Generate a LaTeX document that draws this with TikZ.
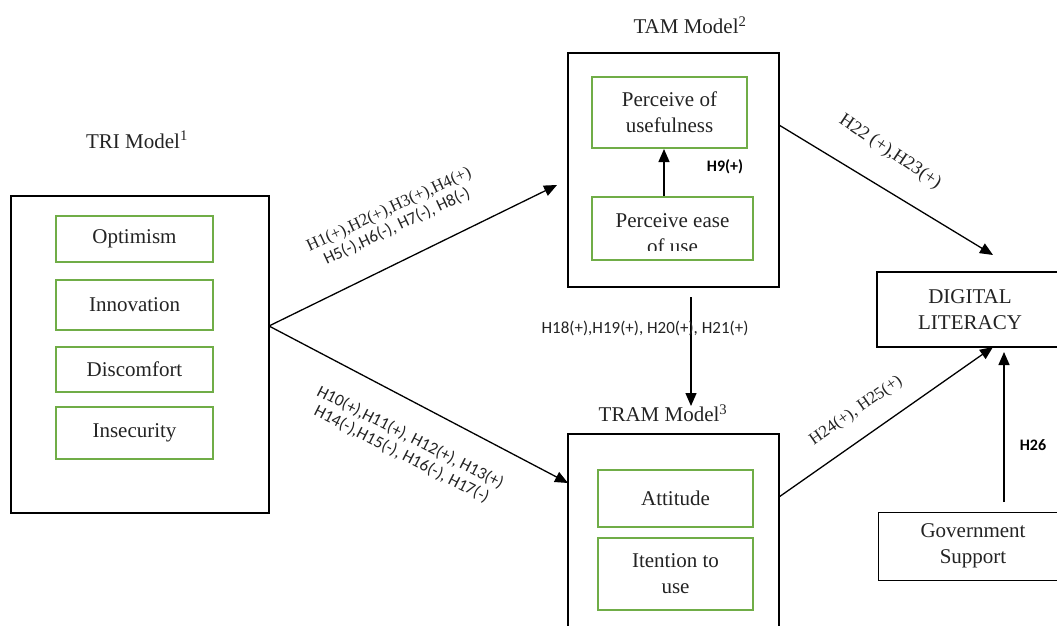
\documentclass[tikz,border=0pt]{standalone}
\usepackage{fontspec}
\setmainfont{Liberation Serif}
\newfontfamily\tnrfont{Liberation Serif}
\newfontfamily\calfont{Carlito}
\usetikzlibrary{arrows.meta}
\definecolor{boxgreen}{RGB}{112,173,71}
\definecolor{txt}{RGB}{35,35,35}
\newcommand\szbig{\tnrfont\fontsize{21}{26}\selectfont}
\newcommand\szmid{\fontsize{17}{19}\selectfont}
\newcommand\szmidl{\fontsize{18.5}{20}\selectfont}
\newcommand\szsm{\fontsize{16}{18}\selectfont}
\begin{document}
\begin{tikzpicture}[x=1pt,y=-1pt,
  outer/.style={draw=black, line width=2pt, inner sep=0pt},
  thinbox/.style={draw=black, line width=1pt, inner sep=0pt, align=center, font=\szbig, text=txt},
  inbox/.style={draw=boxgreen, line width=2pt, inner sep=0pt, align=center, font=\szbig, text=txt},
  title/.style={font=\szbig, text=txt, inner sep=0pt},
  arr/.style={line width=1.3pt, -{Triangle[length=13pt,width=11pt]}},
  lblserif/.style={font=\tnrfont\szmid, align=center, text=txt, inner sep=0pt},
  lblsans/.style={font=\calfont\szmid, align=center, text=txt, inner sep=0pt},
  lblbold/.style={font=\calfont\bfseries\szsm, text=black, inner sep=0pt}]
\useasboundingbox (0,0) rectangle (1057,626);
\clip (0,0) rectangle (1057,626);

% TRI model
\node[title] (tritl) at (137,140) {TRI Model\textsuperscript{1}};
\node[outer, minimum width=258pt, minimum height=317pt] (tri) at (140,354.5) {};
\node[inbox, minimum width=157pt, minimum height=46pt] (opt) at (134.5,239) {Optimism};
\node[inbox, minimum width=157pt, minimum height=50pt] (inn) at (134.5,305) {Innovation};
\node[inbox, minimum width=157pt, minimum height=45pt] (dis) at (134.5,369.5) {Discomfort};
\node[inbox, minimum width=157pt, minimum height=52pt] (ins) at (134.5,433) {Insecurity};

% TAM model
\node[title] (tamtl) at (690,25) {TAM Model\textsuperscript{2}};
\node[outer, minimum width=211pt, minimum height=234pt] (tam) at (673.5,170) {};
\node[inbox, minimum width=155pt, minimum height=71pt] (pu) at (669.5,112.5) {Perceive of\\usefulness};
\node[inbox, minimum width=161pt, minimum height=63pt] (peou) at (672.5,228.5) {};
\begin{scope}
  \clip (593,198) rectangle (752,250);
  \node[title, align=center] (peoutxt) at (672.5,234) {Perceive ease\\of use};
\end{scope}
\draw[arr] (peou.north -| 664,0) -- (pu.south -| 664,0);
\node[lblbold] (h9) at (725,167) {H9(+)};

% TRAM model
\node[title] (tramtl) at (663,413) {TRAM Model\textsuperscript{3}};
\node[outer, minimum width=211pt, minimum height=220pt] (tram) at (673.5,544) {};
\node[inbox, minimum width=155pt, minimum height=57pt] (att) at (675.5,498.5) {Attitude};
\node[inbox, minimum width=155pt, minimum height=72pt] (itu) at (675.5,574) {Itention to\\use};

% Digital literacy and government support
\node[draw=black, line width=1.5pt, inner sep=0pt, minimum width=186pt, minimum height=75pt, align=center, font=\szbig, text=txt] (dl) at (970,309.5) {DIGITAL\\LITERACY};
\node[thinbox, minimum width=190pt, minimum height=68pt] (gov) at (973,546) {Government\\Support};

% connector end points
\coordinate (src) at (269,326);
\coordinate (tamin) at (557,185);
\coordinate (tramin) at (568,483);
\coordinate (tamdown) at (691,297);
\coordinate (tramtop) at (691,406);
\coordinate (tamout) at (779,125);
\coordinate (dltop) at (993,255);
\coordinate (tramout) at (779,497);
\coordinate (dlbot) at (993,347);
\coordinate (govtop) at (1004,502);
\coordinate (dlbot2) at (1004,352);

\draw[arr] (src) -- (tamin);
\draw[arr] (src) -- (tramin);
\draw[arr] (tamdown) -- (tramtop);
\draw[arr] (tamout) -- (dltop);
\draw[arr] (tramout) -- (dlbot);
\draw[arr] (govtop) -- (dlbot2);

% labels
\node[lblserif, rotate=25] (l1) at (393,218) {H1(+),H2(+),H3(+),H4(+)\\{\calfont H5(-),H6(-), H7(-), H8(-)}};
\node[lblsans, rotate=-27] (l2) at (406,446) {H10(+),H11(+), H12(+), H13(+)\\H14(-),H15(-), H16(-), H17(-)};
\node[lblsans] (l3) at (645,328) {H18(+),H19(+), H20(+), H21(+)};
\node[lblserif, font=\tnrfont\szmidl, rotate=-34] (l4) at (890,152) {H22 (+),H23(+)};
\node[lblserif, rotate=35] (l5) at (856,411) {H24(+), H25(+)};
\node[lblbold] (h26) at (1033,445) {H26};
\end{tikzpicture}
\end{document}
